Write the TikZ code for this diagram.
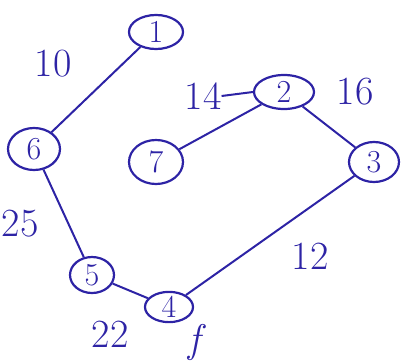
\documentclass[tikz,border=0pt]{standalone}
\usepackage{fontspec}
\usetikzlibrary{shapes.geometric}
\definecolor{ink}{RGB}{45,35,165}
\begin{document}
\begin{tikzpicture}[x=1pt,y=-1pt,
  vert/.style={draw=ink,ellipse,line width=2.2pt,inner sep=0pt,text=ink,font=\fontsize{32}{32}\selectfont},
  wt/.style={text=ink,font=\fontsize{40}{40}\selectfont,inner sep=0pt},
  edge/.style={draw=ink,line width=2pt}]
\useasboundingbox (0,0) rectangle (406,361);
\node[vert,minimum width=54pt,minimum height=34pt] (n1) at (156,32) {1};
\node[vert,minimum width=52pt,minimum height=42pt] (n6) at (34,149) {6};
\node[vert,minimum width=60pt,minimum height=34pt] (n2) at (284,92) {2};
\node[vert,minimum width=54pt,minimum height=44pt] (n7) at (156,162) {7};
\node[vert,minimum width=50pt,minimum height=40pt] (n3) at (374,162) {3};
\node[vert,minimum width=44pt,minimum height=36pt] (n5) at (92,275) {5};
\node[vert,minimum width=48pt,minimum height=28pt] (n4) at (169,307) {4};
\draw[edge] (n1) -- (n6);
\draw[edge] (n2) -- (n7);
\draw[edge] (n2) -- (n3);
\draw[edge] (n6) -- (n5);
\draw[edge] (n5) -- (n4);
\draw[edge] (n4) -- (n3);
\node[wt] (w10) at (53,64) {10};
\node[wt] (w14) at (203,96) {14};
\draw[edge] (w14.east) -- (n2.west);
\node[wt] (w16) at (355,92) {16};
\node[wt] (w25) at (20,224) {25};
\node[wt] (w12) at (310,256) {12};
\node[wt] (w22) at (110,334) {22};
\node[wt] (wf) at (194,342) {\itshape f};
\end{tikzpicture}
\end{document}
